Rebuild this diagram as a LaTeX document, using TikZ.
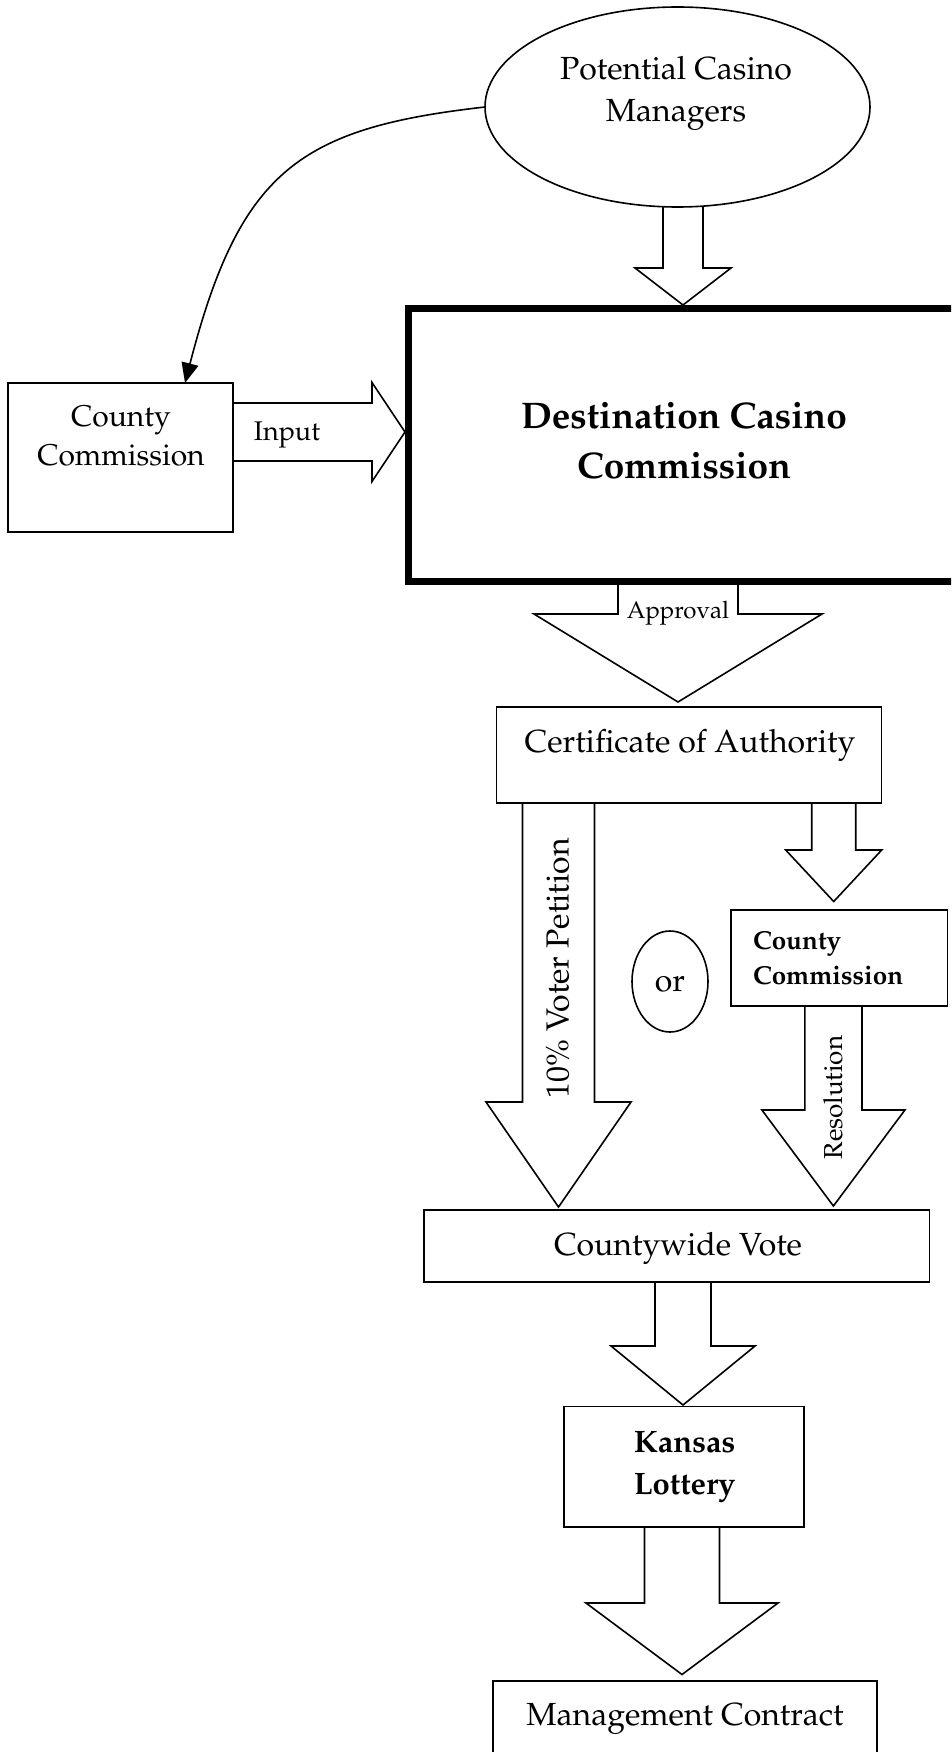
\documentclass[tikz,border=0pt]{standalone}
\usepackage[T1]{fontenc}
\usepackage{mathpazo}
\usetikzlibrary{shapes.geometric,arrows.meta,calc}
\tikzset{
  box/.style={draw, line width=1.6pt, inner sep=0pt, outer sep=0pt},
  thickbox/.style={draw, line width=6.5pt, inner sep=0pt, outer sep=0pt},
  blockarrow/.style={draw, line width=1.6pt, line join=miter},
  lbl/.style={inner sep=0pt, outer sep=0pt, anchor=base},
  fA/.style={font=\fontsize{32}{38}\selectfont},
  fB/.style={font=\fontsize{30}{36}\selectfont},
  fC/.style={font=\fontsize{27}{32}\selectfont},
  fD/.style={font=\fontsize{24}{29}\selectfont},
  fE/.style={font=\fontsize{26}{31}\selectfont},
  bA/.style={font=\fontsize{37}{44}\selectfont\bfseries},
  bB/.style={font=\fontsize{26}{31}\selectfont\bfseries},
  bC/.style={font=\fontsize{31}{37}\selectfont\bfseries},
}
% #1 start point (y used), #2 tip point, #3 shaft half width, #4 head half width, #5 head length
\newcommand\vblock[5]{\draw[blockarrow] let \p1=(#1), \p2=(#2) in
  (\x2-#3pt,\y1) -- (\x2-#3pt,\y2+#5pt) -- (\x2-#4pt,\y2+#5pt) -- (\x2,\y2)
  -- (\x2+#4pt,\y2+#5pt) -- (\x2+#3pt,\y2+#5pt) -- (\x2+#3pt,\y1);}
\begin{document}
\begin{tikzpicture}[x=1pt,y=-1pt]
\useasboundingbox (0,0) rectangle (951,1752);
\clip (0,0) rectangle (951,1752);

% shapes
\node[box, ellipse, minimum width=385, minimum height=200] (pcm) at (677.5,107) {};
\node[box, minimum width=225, minimum height=149] (cc1) at (120.5,457.5) {};
\node[thickbox, minimum width=586.5, minimum height=273] (dcc) at (701.75,445) {};
\node[box, minimum width=385, minimum height=96] (cert) at (689,755) {};
\node[box, minimum width=216.4, minimum height=96] (cc2) at (839.2,958) {};
\node[box, ellipse, minimum width=76, minimum height=101] (orc) at (670,981.5) {};
\node[box, minimum width=505.5, minimum height=72] (cv) at (676.75,1246) {};
\node[box, minimum width=240.3, minimum height=120.4] (kl) at (683.85,1466.8) {};
\node[box, minimum width=384, minimum height=119] (mc) at (685,1740.5) {};

% texts
\node[lbl,fA] (pcmA) at (676,80) {Potential Casino};
\node[lbl,fA] (pcmB) at (676,122) {Managers};
\node[lbl,fB] (cc1A) at (121,426) {County};
\node[lbl,fB] (cc1B) at (121,465) {Commission};
\node[lbl,fC] (inp) at (287,440) {Input};
\node[lbl,bA] (dccA) at (684,428.6) {Destination Casino};
\node[lbl,bA] (dccB) at (684,478) {Commission};
\node[lbl,fD] (appr) at (678,618) {Approval};
\node[lbl,fA] (certT) at (690,752) {Certificate of Authority};
\node[lbl,fA,rotate=90] (vp) at (568.7,968.5) {10\% Voter Petition};
\node[lbl,fA] (orT) at (670,991) {or};
\node[lbl,bB,anchor=base west] (cc2A) at (753,949) {County};
\node[lbl,bB,anchor=base west] (cc2B) at (753,984) {Commission};
\node[lbl,fE,rotate=90] (res) at (842,1097.5) {Resolution};
\node[lbl,fA] (cvT) at (678,1255) {Countywide Vote};
\node[lbl,bC] (klA) at (684.6,1452) {Kansas};
\node[lbl,bC] (klB) at (684.6,1494) {Lottery};
\node[lbl,fA] (mcT) at (685,1725) {Management Contract};

% curved connector
\draw[line width=1.6pt, -{Triangle[length=20pt,width=17pt]}]
  (pcm.west) .. controls (300,128) and (240,170) .. ([xshift=64.5pt]cc1.north);

% block arrows
\vblock{pcm.south}{$(dcc.north)+(-18.75,-3.5)$}{20}{48}{37}
\vblock{$(dcc.south)+(0,3.5)$}{$(cert.north)+(-11,-5)$}{60}{144}{88}
\vblock{cert.south}{$(cc2.north)+(-5.5,-8.5)$}{22}{48}{51.5}
\vblock{cert.south}{$(cv.north)+(-118.25,-3)$}{36}{72.5}{105}
\vblock{cc2.south}{$(cv.north)+(156.65,-4)$}{28.6}{71.5}{96}
\vblock{cv.south}{$(kl.north)+(-0.85,-1.6)$}{28}{72}{59}
\vblock{kl.south}{$(mc.north)+(-3,-6.5)$}{37.5}{96}{71.5}

% input arrow (horizontal)
\draw[blockarrow] let \p1=(cc1.east), \p2=($(dcc.west)+(-3.5,-13)$) in
  (\x1,\y2+29pt) -- (\x2-33pt,\y2+29pt) -- (\x2-33pt,\y2+49.5pt) -- (\x2,\y2)
  -- (\x2-33pt,\y2-49.5pt) -- (\x2-33pt,\y2-29pt) -- (\x1,\y2-29pt);
\end{tikzpicture}
\end{document}
